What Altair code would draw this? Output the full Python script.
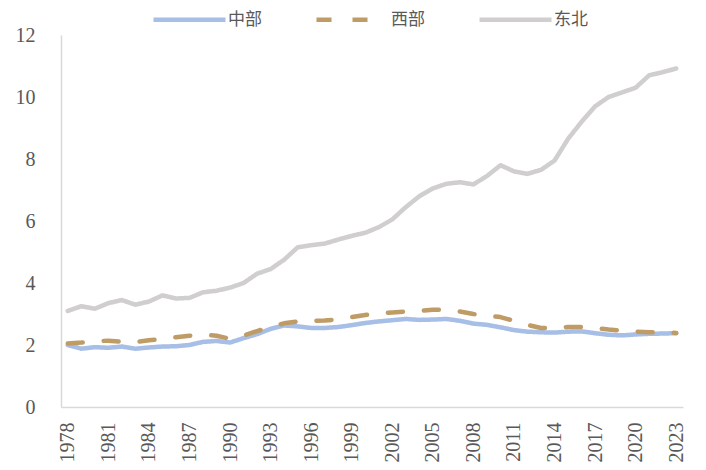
import altair as alt
import pandas as pd

years = list(range(1978, 2024))

central = [2.00, 1.88, 1.93, 1.91, 1.95, 1.88, 1.92, 1.95, 1.96, 2.00,
           2.10, 2.13, 2.08, 2.22, 2.35, 2.52, 2.63, 2.60, 2.55, 2.55,
           2.58, 2.64, 2.71, 2.76, 2.80, 2.84, 2.81, 2.82, 2.84, 2.78,
           2.69, 2.65, 2.57, 2.48, 2.43, 2.41, 2.40, 2.43, 2.44, 2.38,
           2.33, 2.31, 2.34, 2.36, 2.37, 2.38]

western = [2.05, 2.08, 2.12, 2.14, 2.10, 2.10, 2.15, 2.20, 2.25, 2.30,
           2.33, 2.30, 2.20, 2.30, 2.45, 2.58, 2.70, 2.76, 2.78, 2.79,
           2.83, 2.90, 2.97, 3.02, 3.05, 3.08, 3.10, 3.14, 3.13, 3.08,
           3.00, 2.95, 2.90, 2.78, 2.65, 2.55, 2.55, 2.58, 2.58, 2.55,
           2.50, 2.46, 2.43, 2.41, 2.40, 2.39]

northeast = [3.10, 3.25, 3.17, 3.35, 3.45, 3.30, 3.40, 3.60, 3.50, 3.52,
             3.70, 3.75, 3.85, 4.00, 4.30, 4.45, 4.75, 5.15, 5.22, 5.27,
             5.40, 5.52, 5.62, 5.80, 6.05, 6.45, 6.80, 7.05, 7.20, 7.25,
             7.18, 7.45, 7.80, 7.60, 7.52, 7.65, 7.95, 8.65, 9.20, 9.70,
             10.00, 10.15, 10.30, 10.70, 10.80, 10.92]

series_names = ["中部", "西部", "东北"]
series_colors = ["#A7BEE6", "#BF9B65", "#D0CECE"]
series_dashes = [[1, 0], [15, 21], [1, 0]]
x_tick_years = list(range(1978, 2024, 3))
y_ticks = [0, 2, 4, 6, 8, 10, 12]

rows = []
for name, vals in zip(series_names, [central, western, northeast]):
    for y, v in zip(years, vals):
        rows.append({"year": y, "value": v, "series": name})
df = pd.DataFrame(rows)

legend = alt.Legend(
    title=None,
    orient="none",
    direction="horizontal",
    legendX=90,
    legendY=-54,
    symbolType="stroke",
    symbolSize=5184,
    symbolStrokeWidth=4.5,
    labelFont="Noto Sans CJK SC",
    labelFontSize=17,
    labelColor="#595959",
    labelOffset=0,
    columnPadding=45,
)

chart = alt.Chart(df).mark_line(strokeWidth=4.5, strokeCap="round", strokeJoin="round").encode(
    x=alt.X("year:O",
            scale=alt.Scale(type="point", padding=0.5),
            axis=alt.Axis(title=None, values=x_tick_years, labelAngle=-90,
                          labelPadding=15, ticks=False)),
    y=alt.Y("value:Q",
            scale=alt.Scale(domain=[0, 12], nice=False),
            axis=alt.Axis(title=None, values=y_ticks, labelPadding=26,
                          ticks=False, grid=False)),
    color=alt.Color("series:N",
                    scale=alt.Scale(domain=series_names, range=series_colors),
                    sort=series_names, legend=legend),
    strokeDash=alt.StrokeDash("series:N",
                              scale=alt.Scale(domain=series_names, range=series_dashes),
                              sort=series_names, legend=legend),
    order=alt.Order("series_order:Q"),
).transform_calculate(
    series_order="indexof(['中部','西部','东北'], datum.series)"
).properties(
    width=622,
    height=372,
    autosize=alt.AutoSizeParams(type="none"),
    padding={"left": 53, "top": 27, "right": 15, "bottom": 55},
).configure_view(
    stroke=None
).configure_axis(
    domainColor="#D9D9D9",
    domainWidth=1.5,
    labelColor="#595959",
    labelFont="Liberation Serif",
    labelFontSize=20,
    grid=False,
)

chart.save("out.html", embed_options={"renderer": "svg", "actions": False})
